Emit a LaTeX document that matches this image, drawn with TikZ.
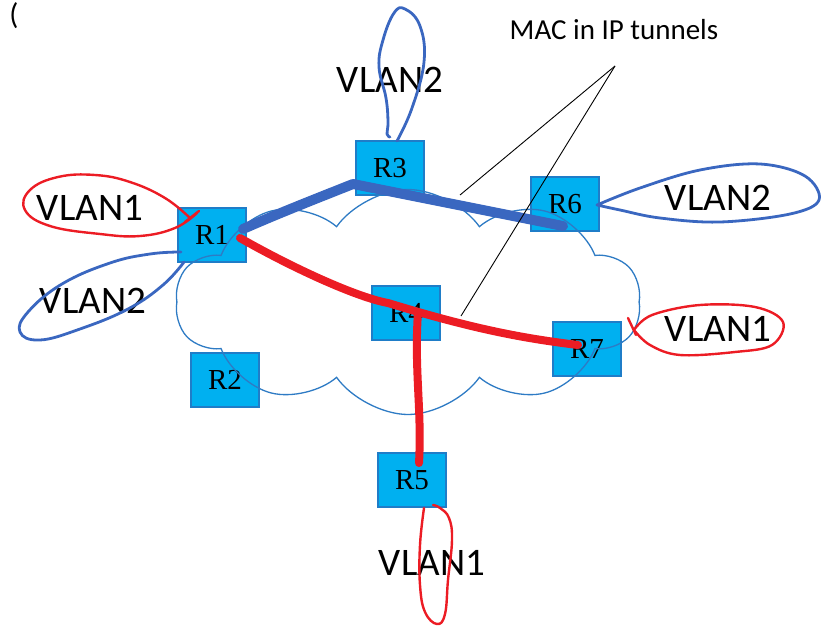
\documentclass[tikz,border=0pt]{standalone}
\usepackage{fontspec}
\newfontfamily\calfont{Carlito}
\newfontfamily\rfont{Liberation Serif}
\usepackage{tikz}
\usetikzlibrary{calc,shapes.symbols}

\definecolor{routerfill}{HTML}{00B0F0}
\definecolor{routerline}{HTML}{1F7DC8}
\definecolor{cloudline}{HTML}{2E7BC4}
\definecolor{vlanblue}{HTML}{3A67C0}
\definecolor{vlanred}{HTML}{EC1C24}

\tikzset{
  router/.style={draw=routerline,fill=routerfill,line width=1.2pt,minimum width=68,minimum height=54,inner sep=0pt,font=\rfont\fontsize{29}{29}\selectfont},
  vlanlabel/.style={font=\calfont\fontsize{39}{39}\selectfont,inner sep=0pt},
  loopblue/.style={draw=vlanblue,line width=2.8pt,line cap=round,line join=round},
  loopred/.style={draw=vlanred,line width=2.4pt,line cap=round,line join=round},
  tunnelblue/.style={draw=vlanblue,line width=10pt,line cap=round,line join=round},
  tunnelred/.style={draw=vlanred,line width=8pt,line cap=round,line join=round},
  pointer/.style={draw=black,line width=0.9pt}
}

\begin{document}
\begin{tikzpicture}[x=1pt,y=-1pt]
\useasboundingbox (0,0) rectangle (840,626);

% stray mark, top left
\node[font=\calfont\fontsize{30}{30}\selectfont,inner sep=0pt] (mark) at (14,16) {(};

% routers
\node[router] (r1) at (212,235) {R1};
\node[router] (r2) at (225,380) {R2};
\node[router] (r3) at (390,168) {R3};
\node[router] (r4) at (406,313) {R4};
\node[router] (r5) at (412,480) {R5};
\node[router] (r6) at (565,204) {R6};
\node[router] (r7) at (587,349) {R7};

% the IP cloud, drawn over the routers
\node[cloud,draw=cloudline,line width=1.3pt,cloud puffs=10,cloud puff arc=110,aspect=2.1,
      minimum width=465,minimum height=225] (ipcloud) at (408,302) {};

% VLAN labels
\node[vlanlabel] (v1a) at (90,208) {VLAN1};
\node[vlanlabel] (v2a) at (93,301) {VLAN2};
\node[vlanlabel] (v2b) at (390,80) {VLAN2};
\node[vlanlabel] (v2c) at (718,198) {VLAN2};
\node[vlanlabel] (v1b) at (718,329) {VLAN1};
\node[vlanlabel] (v1c) at (432,563) {VLAN1};

% VLAN loops
\draw[loopred] plot[smooth,tension=.7] coordinates {
  (197,213) (175,228) (140,236) (100,234) (50,226) (25,210) (30,190) (58,177)
  (95,175) (130,182) (165,198) (190,218)};
\draw[loopred] (185,222) -- (199,211);
\draw[loopblue] plot[smooth,tension=.7] coordinates {
  (181,252) (150,254) (110,263) (62,284) (28,312) (20,332) (40,340) (80,329)
  (128,309) (163,285) (184,262)};
\draw[loopblue] plot[smooth,tension=.7] coordinates {
  (397,141) (412,108) (424,62) (420,26) (405,9) (394,13) (383,40) (379,67)
  (386,98) (388,122) (387,134) (390,137)};
\draw[loopblue] plot[smooth,tension=.6] coordinates {
  (597,205) (640,188) (700,170) (760,164) (805,176) (819,200) (790,214)
  (720,222) (660,218) (620,210) (597,205)};
\draw[loopred] plot[smooth,tension=.6] coordinates {
  (634,330) (652,315) (700,305) (755,307) (783,322) (772,345) (735,352)
  (680,355) (650,345) (634,330)};
\draw[loopred] (628,318) -- (636,335);
\draw[loopred] plot[smooth,tension=.7] coordinates {
  (424,508) (420,545) (420,585) (425,612) (437,624) (445,614) (448,580)
  (452,540) (449,518) (440,508) (433,505)};

% tunnels
\draw[tunnelblue] ([shift={(31,-6)}]r1.center) .. controls (275,215) and (300,205) ..
  ([shift={(-37,16)}]r3.center) -- ([shift={(-2,22)}]r6.center);
\draw[tunnelred] ([shift={(28,3)}]r1.center) .. controls (300,272) and (360,298) ..
  ([shift={(-18,-10)}]r4.center) .. controls (470,328) and (520,338) ..
  ([shift={(-9,-4)}]r7.center);
\draw[tunnelred] ([shift={(12,-1)}]r4.center) .. controls (414,370) and (422,410) ..
  ([shift={(7,-17)}]r5.center);

% pointer to the tunnels
\node[font=\calfont\fontsize{29}{29}\selectfont,inner sep=0pt] (tunnels) at (614,30) {MAC in IP tunnels};
\coordinate (apex) at (615,66);
\coordinate (tipblue) at (460,195);
\coordinate (tipred) at (461,316);
\draw[pointer] (apex) -- (tipblue);
\draw[pointer] (apex) -- (tipred);
\end{tikzpicture}
\end{document}
